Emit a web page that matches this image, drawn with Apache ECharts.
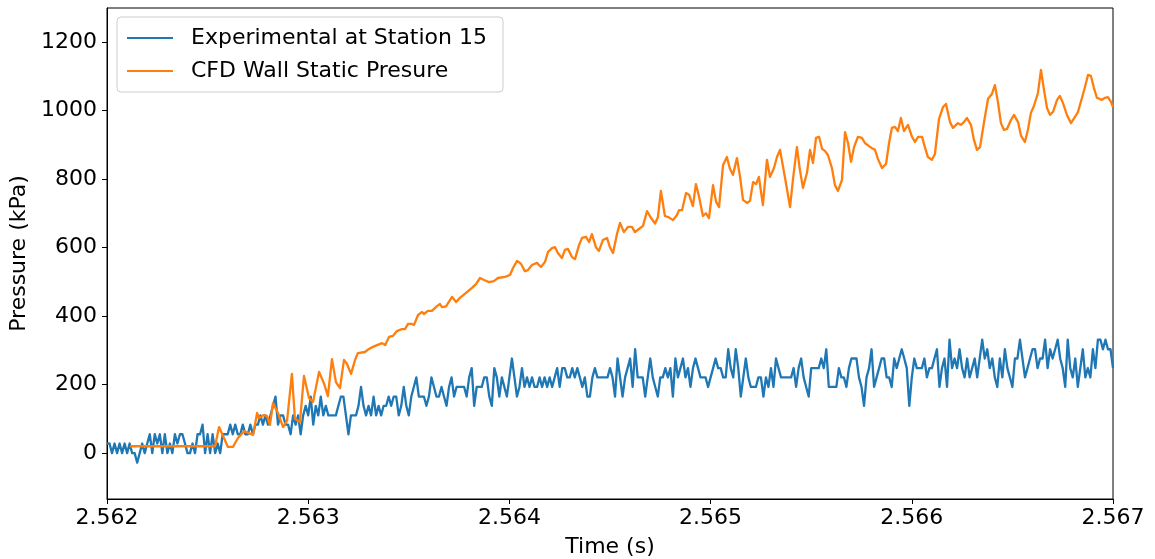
<!DOCTYPE html>
<html>
<head>
<meta charset="utf-8">
<script src="https://cdn.jsdelivr.net/npm/echarts@6/dist/echarts.min.js"></script>
<style>
  html, body { margin: 0; padding: 0; background: #fff; }
  #chart { width: 1155px; height: 559px; }
</style>
</head>
<body>
<div id="chart"></div>
<script>
// Experimental transducer record: uniform sampling, 12.5 µs step from 2.562 s
const expStart = 2.562;
const expStep = 0.0000125;
const expPressure = [
  28,28,0,28,0,28,0,28,0,28,0,0,-28,0,28,0,28,55,0,55,
  28,55,0,55,0,28,0,55,28,55,55,28,0,0,28,0,55,55,83,0,
  55,0,55,0,28,0,55,55,55,83,55,83,55,55,83,55,55,83,55,83,
  83,110,83,110,83,110,138,165,83,110,110,83,83,55,110,83,110,55,110,138,
  110,165,83,138,110,165,110,138,110,110,110,110,138,165,165,110,55,110,110,110,
  138,193,138,110,138,110,165,110,138,110,138,138,165,138,165,165,110,138,193,138,
  110,165,193,221,165,165,165,138,165,221,193,165,165,193,165,138,193,221,165,193,
  193,193,193,165,221,248,138,193,193,193,221,221,165,138,248,221,165,221,193,165,
  221,276,221,165,193,248,193,221,193,221,193,193,221,193,221,193,221,193,221,248,
  193,248,248,221,221,248,221,248,221,193,221,165,165,221,248,221,221,221,221,221,
  248,221,165,276,221,165,221,248,276,193,303,221,221,221,165,221,276,221,193,165,
  221,221,248,221,248,165,276,221,248,276,221,248,193,248,276,248,221,221,221,193,
  221,248,276,248,248,221,221,303,248,221,303,248,165,221,276,221,193,193,193,221,
  221,165,221,193,248,193,276,248,221,221,221,221,221,248,193,248,276,221,193,165,
  248,248,248,248,276,248,303,193,193,193,193,248,221,221,193,248,276,276,276,221,
  193,138,221,248,303,193,221,248,276,276,221,221,193,276,248,276,303,276,248,138,
  221,276,248,248,248,276,221,248,248,276,303,193,248,276,193,331,248,276,248,303,
  248,221,276,221,248,276,221,276,331,276,303,248,276,221,193,276,221,303,248,221,
  193,276,276,331,276,221,248,276,303,303,248,276,276,331,248,303,276,303,331,276,
  248,193,331,248,221,276,193,248,303,221,248,221,303,248,331,331,303,331,303,303,248
];

// CFD output: time offsets after 2.562 s (µs) and wall static pressure (kPa)
const cfdOffsetUs = [
  114,537,557,601,626,651,681,726,746,755,780,795,810,825,850,875,895,919,934,959,
  979,1004,1024,1054,1078,1098,1118,1138,1158,1178,1193,1213,1233,1247,1282,1302,1322,1342,1367,1382,
  1402,1421,1441,1466,1481,1496,1516,1526,1546,1566,1575,1595,1615,1640,1655,1665,1685,1715,1735,1754,
  1789,1814,1834,1854,1874,1899,1923,1943,1978,2003,2018,2038,2058,2077,2092,2112,2137,2157,2177,2192,
  2212,2227,2241,2261,2276,2291,2311,2326,2346,2361,2381,2396,2410,2430,2445,2465,2485,2500,2515,2535,
  2550,2569,2589,2609,2624,2644,2664,2684,2704,2724,2738,2753,2773,2793,2813,2833,2843,2858,2878,2893,
  2912,2927,2942,2962,2977,2992,3012,3027,3042,3062,3081,3096,3111,3131,3146,3161,3181,3196,3211,3226,
  3240,3260,3280,3295,3315,3330,3345,3370,3395,3409,3429,3444,3459,3479,3494,3509,3524,3539,3554,3568,
  3583,3603,3618,3633,3653,3668,3683,3698,3713,3732,3752,3767,3787,3802,3817,3832,3852,3872,3887,3901,
  3916,3931,3946,3961,3981,4001,4016,4031,4051,4065,4080,4100,4115,4135,4155,4170,4190,4205,4229,4244,
  4259,4274,4294,4309,4324,4339,4359,4379,4398,4413,4428,4443,4458,4473,4493,4508,4528,4543,4562,4577,
  4592,4607,4627,4642,4657,4672,4687,4702,4722,4736,4751,4771,4791,4811,4826,4846,4861,4876,4890,4905,
  4920,4945,4960,4975,4990,5000
];
const cfdPressure = [
  20,20,76,18,18,44,64,53,117,102,111,108,82,146,117,76,95,231,100,91,
  225,161,149,237,204,166,274,207,190,272,260,231,272,292,295,304,310,315,321,315,
  339,342,356,362,362,377,377,374,403,412,406,415,415,429,435,426,428,456,441,453,
  470,482,493,511,505,499,502,511,514,520,540,561,552,531,534,549,555,543,558,587,
  598,601,584,569,593,596,572,566,607,628,631,616,639,601,590,622,628,600,584,640,
  672,645,660,660,645,654,663,706,686,670,688,765,692,688,680,695,709,709,759,754,
  721,785,750,692,700,686,782,734,718,841,864,830,812,861,808,739,730,736,791,785,
  806,724,856,806,832,864,885,803,718,797,893,826,774,818,885,847,920,923,888,882,
  870,832,782,765,797,937,905,850,893,923,920,905,896,890,885,858,832,844,905,949,
  952,940,978,940,958,923,908,923,923,893,864,856,873,975,1010,1019,966,949,963,958,
  966,978,958,914,885,893,966,1034,1048,1074,1025,963,943,946,972,987,966,926,908,943,
  993,1013,1051,1118,1060,1007,987,996,1031,1042,1022,987,963,981,996,1037,1069,1104,1101,1066,
  1037,1031,1037,1039,1025,1010
];

// Axis tick values and series names
const timeTicks = [2.562, 2.563, 2.564, 2.565, 2.566, 2.567];
const pressureTicks = [0, 200, 400, 600, 800, 1000, 1200];
const seriesNames = ['Experimental at Station 15', 'CFD Wall Static Presure'];

const expData = expPressure.map((p, i) => [expStart + i * expStep, p]);
const cfdData = cfdPressure.map((p, i) => [expStart + cfdOffsetUs[i] * 1e-6, p]);

const FONT = 'DejaVu Sans';
const FS = 22;
const chart = echarts.init(document.getElementById('chart'), null, { renderer: 'canvas' });

chart.setOption({
  animation: false,
  backgroundColor: '#ffffff',
  textStyle: { fontFamily: FONT },
  grid: {
    left: 107, top: 8, width: 1006, height: 491,
    containLabel: false,
    outerBoundsMode: 'none',
    show: true, borderColor: '#000', borderWidth: 1, backgroundColor: 'transparent'
  },
  legend: {
    left: 117, top: 17,
    orient: 'vertical',
    icon: 'rect',
    itemWidth: 46, itemHeight: 2,
    itemGap: 11,
    padding: [10, 16, 10, 10],
    backgroundColor: 'rgba(255,255,255,0.8)',
    borderColor: '#cccccc', borderWidth: 1, borderRadius: 4,
    textStyle: { fontFamily: FONT, fontSize: FS, color: '#000', padding: [0, 0, 0, 13] },
    data: seriesNames
  },
  xAxis: {
    type: 'value',
    min: 2.562, max: 2.567,
    name: 'Time (s)', nameLocation: 'middle', nameGap: 37,
    nameTextStyle: { fontFamily: FONT, fontSize: FS, color: '#000' },
    axisLine: { show: true, onZero: false, lineStyle: { color: '#000', width: 1 } },
    axisTick: { show: true, length: 5, inside: false, customValues: timeTicks, lineStyle: { color: '#000', width: 1 } },
    axisLabel: {
      customValues: timeTicks, margin: 8,
      fontFamily: FONT, fontSize: FS, color: '#000',
      formatter: v => v.toFixed(3)
    },
    splitLine: { show: false }
  },
  yAxis: {
    type: 'value',
    min: -134, max: 1299,
    name: 'Pressure (kPa)', nameLocation: 'middle', nameGap: 76,
    nameTextStyle: { fontFamily: FONT, fontSize: FS, color: '#000' },
    axisLine: { show: true, onZero: false, lineStyle: { color: '#000', width: 1 } },
    axisTick: { show: true, length: 5, inside: false, customValues: pressureTicks, lineStyle: { color: '#000', width: 1 } },
    axisLabel: {
      customValues: pressureTicks, margin: 10,
      fontFamily: FONT, fontSize: FS, color: '#000',
      formatter: v => String(v)
    },
    splitLine: { show: false }
  },
  series: [
    {
      name: seriesNames[0], type: 'line', data: expData,
      showSymbol: false, symbol: 'none',
      lineStyle: { color: '#1f77b4', width: 2.3, join: 'round' },
      itemStyle: { color: '#1f77b4' },
      z: 2
    },
    {
      name: seriesNames[1], type: 'line', data: cfdData,
      showSymbol: false, symbol: 'none',
      lineStyle: { color: '#ff7f0e', width: 2.3, join: 'round' },
      itemStyle: { color: '#ff7f0e' },
      z: 3
    }
  ]
});
</script>
</body>
</html>
